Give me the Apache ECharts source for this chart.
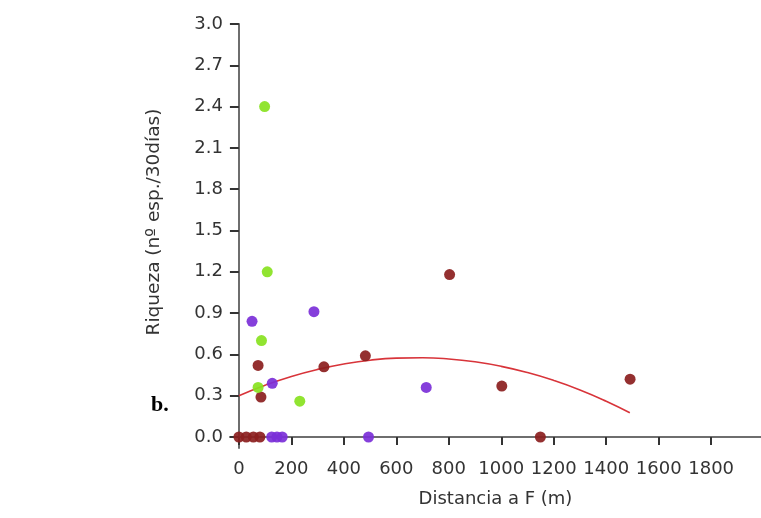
<!DOCTYPE html>
<html>
<head>
<meta charset="utf-8">
<script src="https://cdn.jsdelivr.net/npm/echarts@6/dist/echarts.min.js"></script>
<style>
  html, body { margin: 0; padding: 0; background: #ffffff; }
  #chart { width: 761px; height: 518px; }
</style>
</head>
<body>
<div id="chart"></div>
<script>
// Species richness vs. distance, three groups of sites plus a fitted trend
const greenX  = [98, 108, 86, 73, 232];
const greenY  = [2.4, 1.2, 0.7, 0.36, 0.26];
const purpleX = [50, 286, 127, 714, 494, 125, 145, 165];
const purpleY = [0.84, 0.91, 0.39, 0.36, 0, 0, 0, 0];
const brownX  = [803, 482, 324, 73, 84, 1002, 1491, 1149, 0, 28, 55, 80];
const brownY  = [1.18, 0.59, 0.51, 0.52, 0.29, 0.37, 0.42, 0, 0, 0, 0, 0];

// trend curve, read along its length
const trendX = [0, 100, 200, 300, 400, 500, 600, 700, 800, 900, 1000, 1100, 1200, 1300, 1400, 1490];
const trendY = [0.30, 0.376, 0.44, 0.491, 0.53, 0.558, 0.573, 0.576, 0.567, 0.546, 0.513, 0.468, 0.411, 0.342, 0.26, 0.176];

const xTicks = [0, 200, 400, 600, 800, 1000, 1200, 1400, 1600, 1800];
const yTicks = [0, 0.3, 0.6, 0.9, 1.2, 1.5, 1.8, 2.1, 2.4, 2.7, 3.0];

const zip = (xs, ys) => xs.map((x, i) => [x, ys[i]]);

const axisFont = { fontFamily: 'DejaVu Sans', fontSize: 18, color: '#333333' };
const axisLineStyle = { color: '#6e6e6e', width: 2 };

const chart = echarts.init(document.getElementById('chart'), null, { renderer: 'canvas' });
chart.setOption({
  backgroundColor: '#ffffff',
  animation: false,
  title: {
    text: 'b.',
    left: 146, top: 389,
    textStyle: { fontFamily: 'Liberation Serif', fontWeight: 'bold', fontSize: 22, color: '#000000' }
  },
  grid: { left: 230, right: 0, top: 24, bottom: 70, containLabel: false, outerBoundsMode: 'none' },
  xAxis: {
    type: 'value',
    min: -34, max: 1990,
    name: 'Distancia a F (m)',
    nameLocation: 'middle',
    nameGap: 42,
    nameTextStyle: axisFont,
    splitLine: { show: false },
    axisLine: { onZero: true, lineStyle: axisLineStyle },
    axisTick: { show: true, customValues: xTicks, length: 8, inside: false, lineStyle: { color: '#333333', width: 2 } },
    axisLabel: { customValues: xTicks, margin: 12, formatter: v => String(v), ...axisFont }
  },
  yAxis: {
    type: 'value',
    min: -0.08, max: 3.0,
    name: 'Riqueza (nº esp./30días)',
    nameLocation: 'middle',
    nameGap: 66,
    nameTextStyle: { ...axisFont, fontSize: 18.5, padding: [0, 0, 0, 28] },
    splitLine: { show: false },
    axisLine: { onZero: true, lineStyle: axisLineStyle },
    axisTick: { show: true, customValues: yTicks, length: 9, lineStyle: { color: '#333333', width: 2 } },
    axisLabel: { customValues: yTicks, margin: 7, formatter: v => v.toFixed(1), ...axisFont }
  },
  series: [
    {
      type: 'line',
      data: zip(trendX, trendY),
      smooth: true,
      showSymbol: false,
      lineStyle: { color: '#d8343a', width: 1.6 },
      z: 1
    },
    {
      type: 'scatter',
      data: zip(brownX, brownY),
      symbolSize: 11,
      itemStyle: { color: '#8b1e1e', opacity: 0.92 },
      z: 2
    },
    {
      type: 'scatter',
      data: zip(purpleX, purpleY),
      symbolSize: 11,
      itemStyle: { color: '#7b2fd8', opacity: 0.92 },
      z: 3
    },
    {
      type: 'scatter',
      data: zip(greenX, greenY),
      symbolSize: 11,
      itemStyle: { color: '#88e220', opacity: 0.92 },
      z: 4
    }
  ]
});
</script>
</body>
</html>
